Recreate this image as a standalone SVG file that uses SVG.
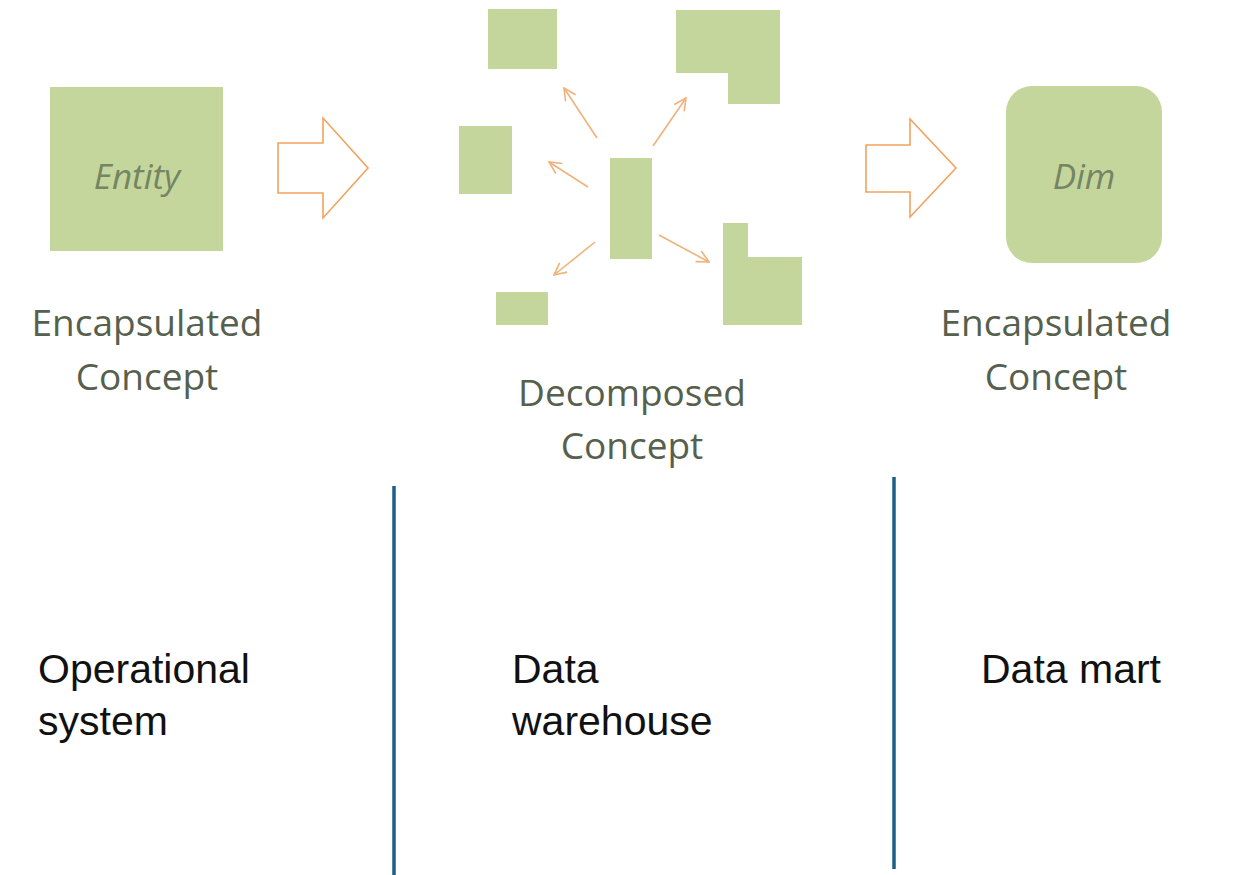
<svg xmlns="http://www.w3.org/2000/svg" width="1235" height="875" viewBox="0 0 1235 875">
<defs>
<style>
.shape{fill:#c4d69c}
.hollow{fill:#ffffff;stroke:#f2a35e;stroke-width:1.6;stroke-linejoin:miter}
.thin{stroke:#f0b27a;stroke-width:1.6;fill:none}
.lbl{font-family:"Open Sans","Noto Sans",sans-serif;font-size:37px;fill:#56604d;text-anchor:middle}
.inner{font-family:"Open Sans","Noto Sans",sans-serif;font-size:35px;font-style:italic;fill:#748564;text-anchor:middle}
.sect{font-family:"Liberation Sans",Arial,sans-serif;font-size:41px;fill:#111111}
.divider{stroke:#1b5f87;stroke-width:3.5}
</style>
<marker id="ah" viewBox="0 0 14 14" refX="13" refY="7" markerWidth="14" markerHeight="14" markerUnits="userSpaceOnUse" orient="auto">
<path d="M1,1 L13,7 L1,13" fill="none" stroke="#f0b27a" stroke-width="1.6"/>
</marker>
</defs>
<rect width="1235" height="875" fill="#ffffff"/>

<g id="entity">
<rect class="shape" x="50" y="87" width="173" height="164"/>
<text class="inner" x="137" y="189">Entity</text>
</g>
<g id="label-encapsulated-left">
<text class="lbl" x="147" y="336">Encapsulated</text>
<text class="lbl" x="147" y="390">Concept</text>
</g>

<g id="decomposed">
<rect class="shape" x="488" y="9" width="69" height="60"/>
<path class="shape" d="M676,10 H780 V104 H728 V73 H676 Z"/>
<rect class="shape" x="459" y="126" width="53" height="68"/>
<rect class="shape" x="610" y="158" width="42" height="101"/>
<rect class="shape" x="496" y="292" width="52" height="33"/>
<path class="shape" d="M723,223 H748 V257 H802 V325 H723 Z"/>
</g>
<g id="label-decomposed">
<text class="lbl" x="632" y="406">Decomposed</text>
<text class="lbl" x="632" y="459">Concept</text>
</g>

<g id="dim">
<rect class="shape" x="1006" y="86" width="156" height="177" rx="26" ry="26"/>
<text class="inner" x="1084" y="189">Dim</text>
</g>
<g id="label-encapsulated-right">
<text class="lbl" x="1056" y="336">Encapsulated</text>
<text class="lbl" x="1056" y="390">Concept</text>
</g>

<g id="connectors">
<path class="hollow" d="M278,143 H323 V118 L368,168 L323,218 V193 H278 Z"/>
<path class="hollow" d="M866,145 H910 V119 L956,168 L910,217 V192 H866 Z"/>
<line class="thin" x1="597" y1="138" x2="564" y2="88" marker-end="url(#ah)"/>
<line class="thin" x1="653" y1="146" x2="686" y2="98" marker-end="url(#ah)"/>
<line class="thin" x1="588" y1="187" x2="549" y2="162" marker-end="url(#ah)"/>
<line class="thin" x1="595" y1="242" x2="554" y2="275" marker-end="url(#ah)"/>
<line class="thin" x1="659" y1="235" x2="709" y2="262" marker-end="url(#ah)"/>
</g>

<g id="dividers">
<line class="divider" x1="394" y1="486" x2="394" y2="875"/>
<line class="divider" x1="894" y1="477" x2="894" y2="869"/>
</g>

<g id="section-operational">
<text class="sect" x="38" y="683">Operational</text>
<text class="sect" x="38" y="735">system</text>
</g>
<g id="section-warehouse">
<text class="sect" x="512" y="683">Data</text>
<text class="sect" x="512" y="735">warehouse</text>
</g>
<g id="section-mart">
<text class="sect" x="981" y="683">Data mart</text>
</g>
</svg>
